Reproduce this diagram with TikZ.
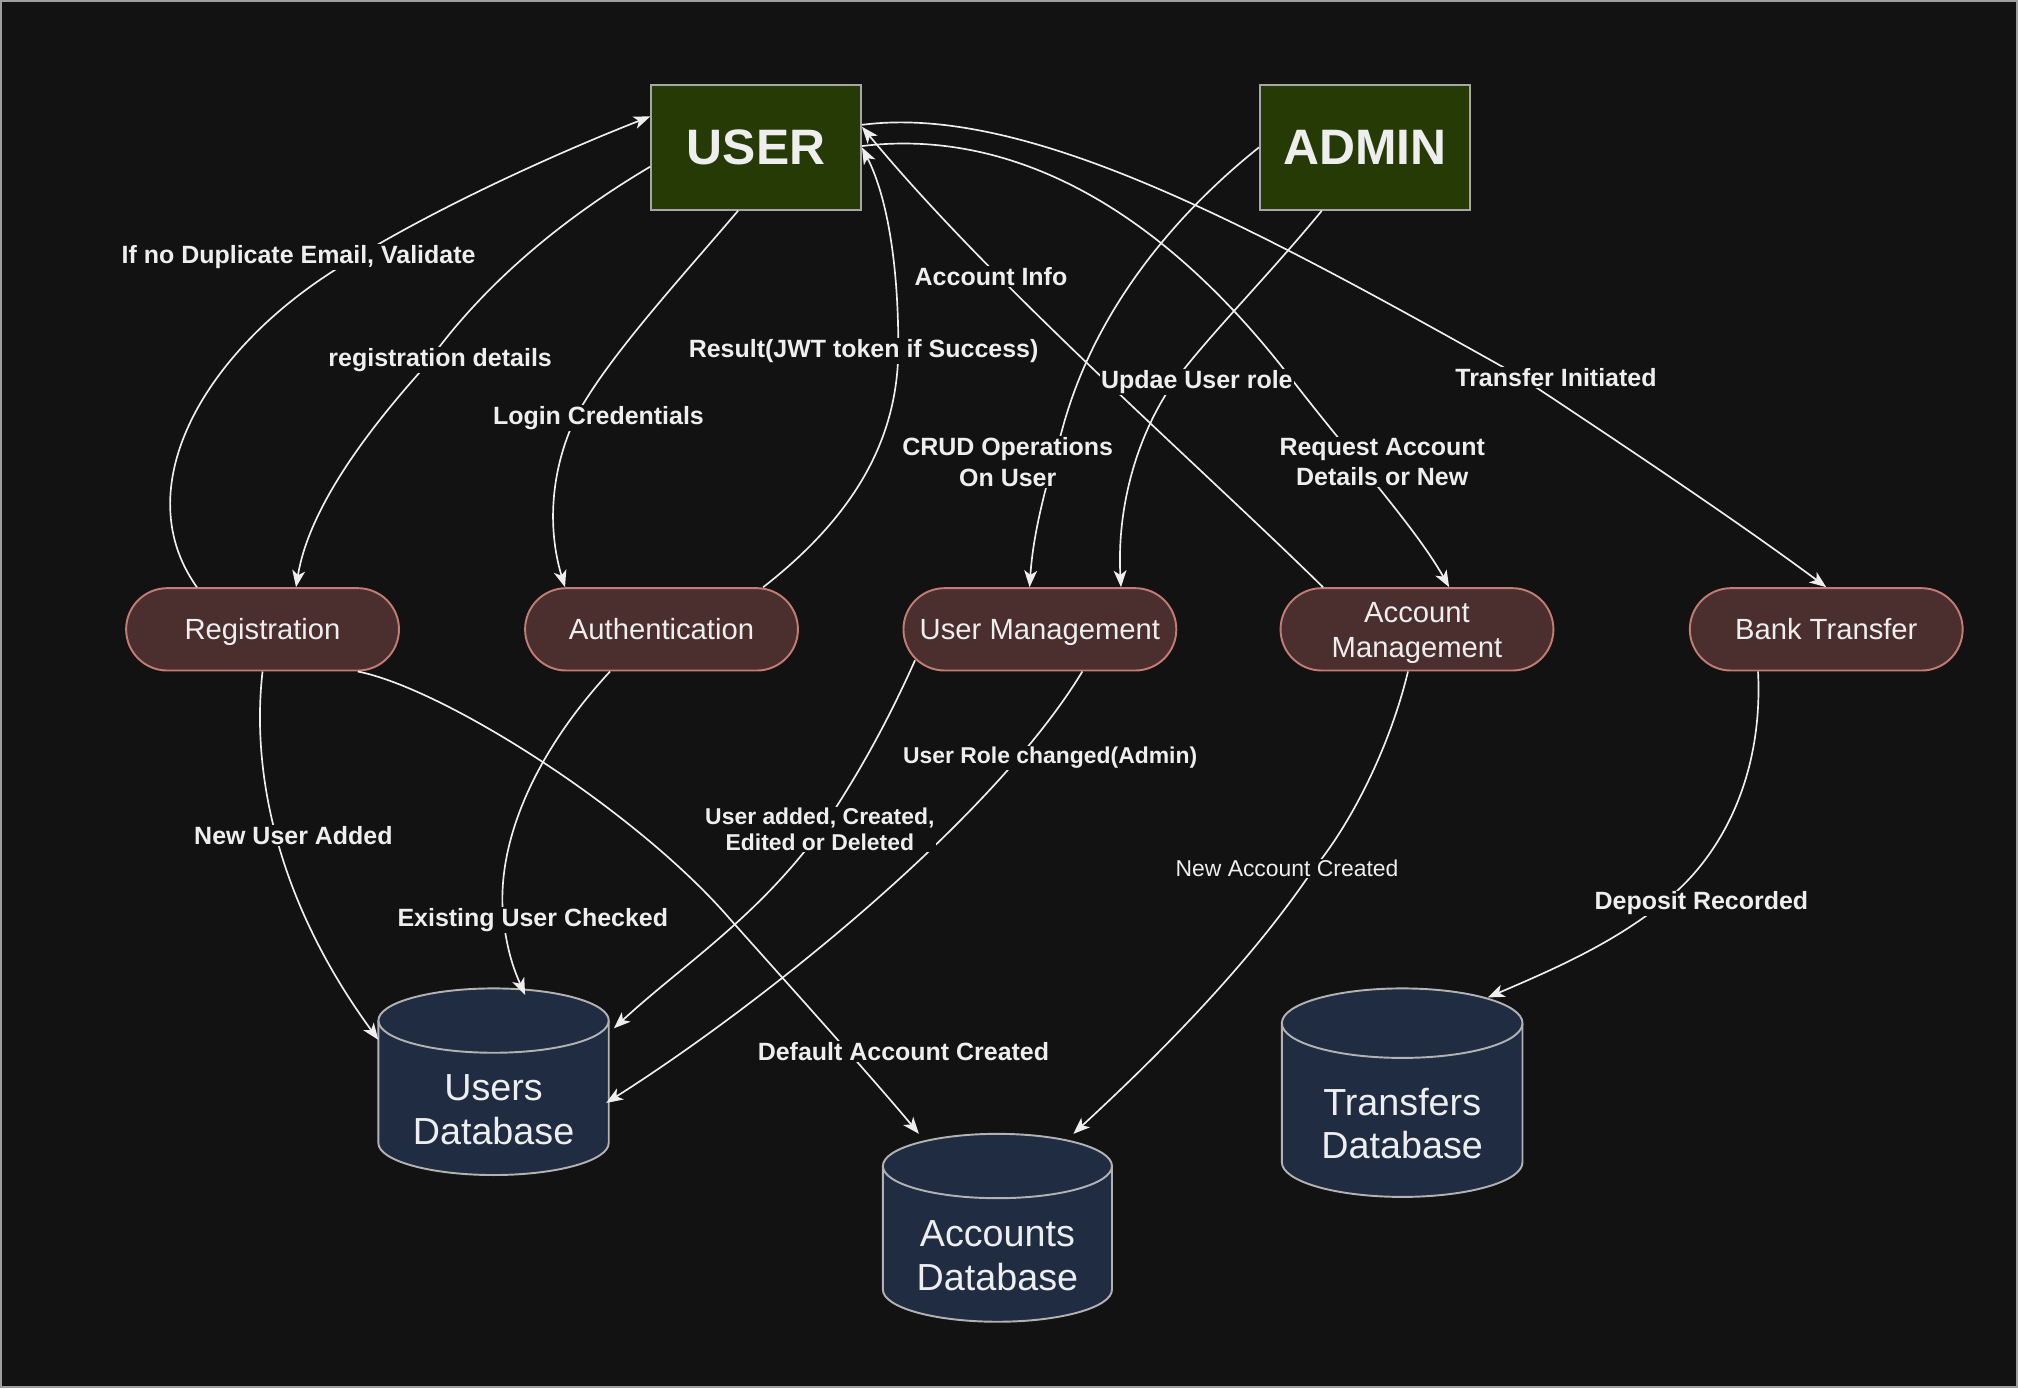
\documentclass[tikz,border=0pt]{standalone}
\usepackage{fontspec}
\setmainfont{Liberation Sans}
\usetikzlibrary{arrows.meta}

\definecolor{bg}{HTML}{121212}
\definecolor{actorfill}{HTML}{253A04}
\definecolor{procfill}{HTML}{4A2F2E}
\definecolor{procline}{HTML}{C47C72}
\definecolor{dbfill}{HTML}{1F2C42}
\definecolor{ink}{HTML}{EEEEEE}

\begin{document}
\begin{tikzpicture}[x=1pt, y=-1pt,
    actor/.style={draw=gray!70, line width=1.5pt, fill=actorfill, minimum width=163pt, minimum height=97pt, text=ink, font=\fontsize{38.7}{40}\selectfont\bfseries},
    proc/.style={draw=procline, line width=1.5pt, fill=procfill, rounded corners=32pt, minimum width=212pt, minimum height=64pt, text=ink, align=center, text height=16.4pt, text depth=0pt, font=\fontsize{22.7}{27.5}\selectfont},
    dbshape/.style={draw=gray!60, line width=1.5pt, fill=dbfill},
    dbbox/.style={inner sep=0pt},
    dbtext/.style={text=ink, align=center, font=\fontsize{29.3}{34}\selectfont},
    flow/.style={draw=ink, line width=1.3pt, -{Stealth[length=13pt,width=10pt,inset=3.5pt]}},
    lbl/.style={fill=bg, text=ink, inner sep=1pt, align=center, font=\fontsize{19.4}{24}\selectfont\bfseries},
    lblsmall/.style={lbl, font=\fontsize{17.8}{20}\selectfont\bfseries}]
\useasboundingbox (0,0) rectangle (1568,1078.5);
\fill[bg] (0,0) rectangle (1568,1078.5);
\draw[gray!75, line width=1.5pt] (0.75,0.75) rectangle (1567.25,1077.75);

% actors
\node[actor] (user) at (587.5,114.5) {USER};
\node[actor] (admin) at (1060.5,114.5) {ADMIN};

% processes
\node[proc] (reg) at (204,489) {Registration};
\node[proc] (auth) at (514,489) {Authentication};
\node[proc] (umgmt) at (808,489) {User Management};
\node[proc, text height=43.9pt] (amgmt) at (1101,489) {Account\\Management};
\node[proc] (bank) at (1419,489) {Bank Transfer};

% stores
\filldraw[dbshape] (294,793) -- (294,888) arc[start angle=180, end angle=360, x radius=89.5pt, y radius=25pt] -- (473,793) arc[start angle=0, end angle=180, x radius=89.5pt, y radius=25pt] -- cycle;
\draw[dbshape, fill=none] (294,793) arc[start angle=180, end angle=360, x radius=89.5pt, y radius=25pt];
\filldraw[dbshape] (686,906) -- (686,1002) arc[start angle=180, end angle=360, x radius=89pt, y radius=25pt] -- (864,906) arc[start angle=0, end angle=180, x radius=89pt, y radius=25pt] -- cycle;
\draw[dbshape, fill=none] (686,906) arc[start angle=180, end angle=360, x radius=89pt, y radius=25pt];
\filldraw[dbshape] (996,795) -- (996,903) arc[start angle=180, end angle=360, x radius=93.5pt, y radius=27pt] -- (1183,795) arc[start angle=0, end angle=180, x radius=93.5pt, y radius=27pt] -- cycle;
\draw[dbshape, fill=none] (996,795) arc[start angle=180, end angle=360, x radius=93.5pt, y radius=27pt];

\node[dbbox, minimum width=179pt, minimum height=145pt, label={[dbtext, yshift=-21.5pt]center:{Users\\Database}}] (usersdb) at (383.5,840.5) {};
\node[dbbox, minimum width=178pt, minimum height=146pt, label={[dbtext, yshift=-21.5pt]center:{Accounts\\Database}}] (accdb) at (775,954) {};
\node[dbbox, minimum width=187pt, minimum height=162pt, label={[dbtext, yshift=-24pt]center:{Transfers\\Database}}] (trdb) at (1089.5,849) {};

% user side
\draw[flow] ([xshift=-51pt]reg.north) .. controls (95,375) and (165,262) .. (280,198) .. controls (350,156) and (440,116) .. ([yshift=24pt]user.west);
\draw[flow] ([yshift=-15pt]user.west) .. controls (420,180) and (365,235) .. (330,285) .. controls (285,335) and (240,395) .. ([xshift=26pt]reg.north);
\draw[flow] ([xshift=-14pt]user.south) .. controls (530,215) and (470,280) .. (447,325) .. controls (428,365) and (425,410) .. ([xshift=-75pt]auth.north);
\draw[flow] ([xshift=79pt]auth.north) .. controls (665,400) and (698,340) .. (698,270) .. controls (698,200) and (688,150) .. (user.east);
\draw[flow] ([xshift=-73pt]amgmt.north) .. controls (930,360) and (770,220) .. ([yshift=16pt]user.east);
\draw[flow] ([yshift=1pt]user.east) .. controls (780,100) and (895,155) .. (1000,290) .. controls (1050,355) and (1100,410) .. ([xshift=25pt]amgmt.north);
\draw[flow] ([yshift=17.5pt]user.east) .. controls (800,80) and (980,180) .. (1180,292) .. controls (1260,345) and (1350,405) .. (bank.north);

% admin side
\draw[flow] (admin.west) .. controls (915,165) and (850,240) .. (825,335) .. controls (815,370) and (803,410) .. ([xshift=-8pt]umgmt.north);
\draw[flow] ([xshift=-33.5pt]admin.south) .. controls (985,215) and (935,265) .. (910,300) .. controls (880,345) and (868,400) .. ([xshift=63pt]umgmt.north);

% to the stores
\draw[flow] (reg.south) .. controls (195,600) and (215,700) .. ([xshift=-89.5pt,yshift=32.5pt]usersdb.center);
\draw[flow] ([xshift=-40pt]auth.south) .. controls (420,580) and (385,650) .. (391,713) .. controls (394,740) and (400,755) .. ([xshift=24.5pt,yshift=67.5pt]usersdb.center);
\draw[flow] ([xshift=-97pt,yshift=-24pt]umgmt.center) .. controls (690,560) and (668,600) .. (640,642) .. controls (590,712) and (530,750) .. ([xshift=93.5pt,yshift=41.5pt]usersdb.center);
\draw[flow] ([xshift=33pt]umgmt.south) .. controls (773,634) and (597,777) .. ([xshift=87.5pt,yshift=-16.5pt]usersdb.center);
\draw[flow] ([xshift=74pt]reg.south) .. controls (345,535) and (495,630) .. (568,715) .. controls (610,762) and (680,840) .. ([xshift=-61pt,yshift=73pt]accdb.center);
\draw[flow] ([xshift=-7pt]amgmt.south) .. controls (1080,580) and (1050,640) .. (1020,676) .. controls (970,750) and (900,820) .. ([xshift=59pt,yshift=73pt]accdb.center);
\draw[flow] ([xshift=-53pt]bank.south) .. controls (1370,600) and (1340,660) .. (1300,695) .. controls (1260,730) and (1210,752) .. ([xshift=66.5pt,yshift=74pt]trdb.center);

% labels
\node[lbl] (lblvalidate) at (232,200) {If no Duplicate Email, Validate};
\node[lbl] (lblregdet) at (342,280) {registration details};
\node[lbl] (lbllogin) at (465,325) {Login Credentials};
\node[lbl] (lbljwt) at (671,273) {Result(JWT token if Success)};
\node[lbl] (lblaccinfo) at (770,215) {Account Info};
\node[lbl] (lblrole) at (930,297) {Updae User role};
\node[lbl] (lbltransfer) at (1209,293) {Transfer Initiated};
\node[lbl] (lblcrud) at (783,359) {CRUD Operations\\On User};
\node[lbl] (lblrequest) at (1074,359) {Request Account\\Details or New};
\node[lbl] (lblnewuser) at (228,649) {New User Added};
\node[lbl] (lblexisting) at (414,715) {Existing User Checked};
\node[lblsmall] (lbluseradded) at (637,644.5) {User added, Created,\\Edited or Deleted};
\node[lblsmall] (lblrolechg) at (816,589) {User Role changed(Admin)};
\node[lbl] (lbldefault) at (702,817) {Default Account Created};
\node[lblsmall, font=\fontsize{17.8}{20}\selectfont] (lblnewacc) at (1000,675) {New Account Created};
\node[lbl] (lbldeposit) at (1322,702) {Deposit Recorded};
\end{tikzpicture}
\end{document}
